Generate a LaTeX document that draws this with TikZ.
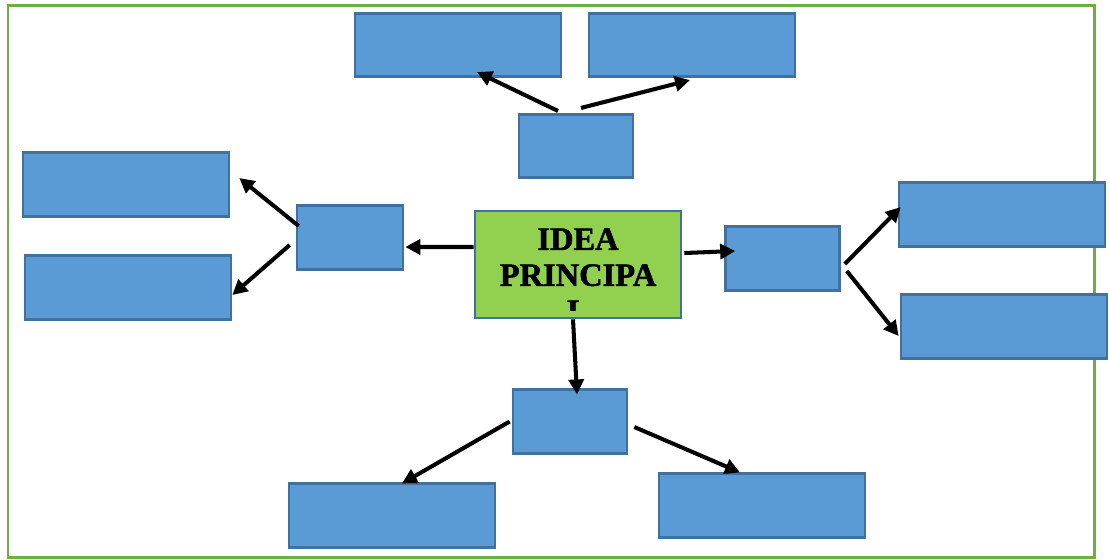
\documentclass[tikz,border=0pt]{standalone}
\usepackage{fontspec}
\usepackage{xcolor}
\usetikzlibrary{positioning, arrows.meta}
\newfontfamily\ideafont{Liberation Serif}[BoldFeatures={FakeBold=1.6}]
\definecolor{boxblue}{HTML}{5B9BD5}
\definecolor{boxedge}{HTML}{41719C}
\definecolor{ideagreen}{HTML}{92D050}
\definecolor{framegreen}{HTML}{70AD47}
\tikzset{
  box/.style={draw=boxedge, fill=boxblue, line width=1.5pt, minimum width=4.12cm, minimum height=1.27cm, inner sep=0},
  smallbox/.style={box, minimum width=2.28cm},
  arr/.style={-{Triangle[length=0.3cm, width=0.3cm]}, line width=2.3pt, black}
}

\begin{document}
\begin{tikzpicture}[x=0.02cm, y=-0.02cm]
    \useasboundingbox (0,0) rectangle (1109,559);
    \draw[framegreen, line width=1.7pt] (8,5) rectangle (1094,557);

    % outer boxes
    \node[box] (TL) at (458,45) {};
    \node[box] (TR) at (692,45) {};
    \node[box] (LU) at (126,184.5) {};
    \node[box] (LL) at (128,287.5) {};
    \node[box] (RU) at (1002,214.5) {};
    \node[box] (RL) at (1004,326.5) {};
    \node[box] (BL) at (392,515.5) {};
    \node[box] (BR) at (762,505.5) {};

    % inner boxes
    \node[smallbox] (T) at (576,146) {};
    \node[smallbox, minimum width=2.12cm] (L) at (350,237.5) {};
    \node[smallbox] (R) at (782.5,258.5) {};
    \node[smallbox] (B) at (570,421.5) {};

    % main idea
    \node[box, fill=ideagreen, minimum height=2.14cm] (C) at (578,264.5) {};
    \begin{scope}
        \clip ([xshift=0.1cm]C.north west) rectangle (C.east |- 0,310);
        \node[anchor=north, inner sep=0, align=center, font=\ideafont\bfseries\fontsize{18.5}{20.5}\selectfont] (Ctext) at (578,228) {IDEA\\PRINCIPA\\L};
    \end{scope}

    % connectors
    \draw[arr] ([xshift=-0.36cm, yshift=0.04cm]T.north) -- ([xshift=0.38cm, yshift=0.12cm]TL.south);
    \draw[arr] ([xshift=0.1cm, yshift=0.1cm]T.north) -- ([xshift=-0.04cm, yshift=-0.04cm]TR.south);
    \draw[arr] ([yshift=0.35cm]C.west) -- ([xshift=0.02cm, yshift=-0.19cm]L.east);
    \draw[arr] ([xshift=0.06cm, yshift=0.23cm]L.west) -- ([xshift=0.18cm, yshift=0.13cm]LU.east);
    \draw[arr] ([xshift=-0.12cm, yshift=-0.15cm]L.west) -- ([yshift=-0.15cm]LL.east);
    \draw[arr] ([xshift=0.04cm, yshift=0.23cm]C.east) -- ([xshift=0.22cm, yshift=0.15cm]R.west);
    \draw[arr] ([xshift=0.08cm, yshift=-0.11cm]R.east) -- ([xshift=0.06cm, yshift=0.15cm]RU.west);
    \draw[arr] ([xshift=0.12cm, yshift=-0.25cm]R.east) -- ([xshift=-0.02cm, yshift=-0.19cm]RL.west);
    \draw[arr] ([xshift=-0.1cm]C.south) -- ([xshift=0.14cm, yshift=-0.12cm]B.north);
    \draw[arr] ([xshift=-0.04cm]B.west) -- ([xshift=0.2cm, yshift=-0.02cm]BL.north);
    \draw[arr] ([xshift=0.12cm, yshift=-0.11cm]B.east) -- ([xshift=-0.44cm]BR.north);
\end{tikzpicture}
\end{document}
